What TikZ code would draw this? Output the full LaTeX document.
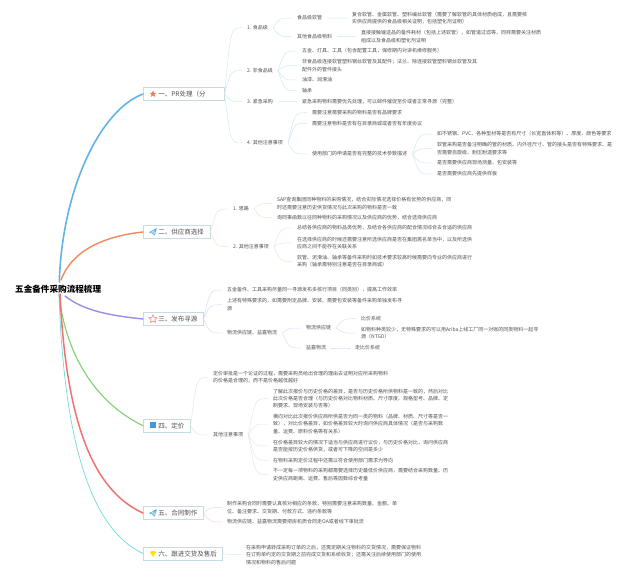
\documentclass[tikz,border=0pt]{standalone}
\usepackage{fontspec}
\setmainfont{Noto Sans CJK SC}
\usetikzlibrary{calc,shapes.geometric}
\definecolor{txt}{HTML}{505050}
\definecolor{bxline}{HTML}{C6DCE0}
\definecolor{cblue}{HTML}{62B4E2}
\definecolor{corange}{HTML}{F08A5D}
\definecolor{cpurple}{HTML}{9C8CE8}
\definecolor{cgreen}{HTML}{80CF72}
\definecolor{cred}{HTML}{F07272}
\definecolor{ccyan}{HTML}{6FDCD6}
\definecolor{lblue}{HTML}{CFEAF0}
\definecolor{lorange}{HTML}{FAE0D4}
\definecolor{lpurple}{HTML}{E0DBF7}
\definecolor{lgreen}{HTML}{E2EBE0}
\definecolor{lred}{HTML}{FAD6D6}
\definecolor{lcyan}{HTML}{CDF0F0}
\definecolor{iconblue}{HTML}{4CA8DC}
\tikzset{
  tx/.style={font=\fontsize{5}{7.4}\selectfont,text=txt,inner sep=0pt,align=left,anchor=west},
  bx/.style={draw=bxline,line width=0.6pt,fill=white,font=\fontsize{6.5}{8}\selectfont,text=txt,
    inner xsep=0pt,inner ysep=0pt,minimum height=13pt,align=left,anchor=west},
  lk/.style={line width=0.5pt},
  mainline/.style={line cap=round}
}
\newcommand{\lnk}[3]{%
  \path ([xshift=5pt]#1.east) coordinate (P) ([xshift=-5pt]#2.west) coordinate (Q);
  \draw[lk,#3] (P) .. controls ($(P |- Q)!.35!(Q)$) .. (Q);}
\newcommand{\lnkb}[3]{%
  \path (#1.east) coordinate (P) ([xshift=-5pt]#2.west) coordinate (Q);
  \draw[lk,#3] (P) .. controls ($(P |- Q)!.35!(Q)$) .. (Q);}
\newcommand{\planeicon}[2]{%
  \begin{scope}[shift={(#1,#2)}]
    \draw[iconblue,line width=0.5pt,fill=iconblue!25,line join=round]
      (3.5,-3.5) -- (-3.5,0.3) -- (-0.5,1.3) -- cycle
      (3.5,-3.5) -- (1.5,3.2) -- (-0.5,1.3);
  \end{scope}}
\begin{document}
\begin{tikzpicture}[x=1pt,y=-1pt]
\useasboundingbox (0,0) rectangle (640,576);
\fill[white] (0,0) rectangle (640,576);

% root branches
\coordinate (h1) at (59.3,282);
\coordinate (h2) at (61,280);
\coordinate (h3) at (65,296);
\coordinate (h4) at (59,294);
\coordinate (h5) at (60,294);
\coordinate (h6) at (59,294);

% section boxes
\node[bx,minimum width=81pt,text width=81pt] (s1) at (143,94) {\hspace*{15pt}一、PR处理（分};
\node[bx,minimum width=67pt,text width=67pt] (s2) at (143,232) {\hspace*{15pt}二、供应商选择};
\node[bx,minimum width=60pt,text width=60pt] (s3) at (143,319) {\hspace*{15pt}三、发布寻源};
\node[bx,minimum width=47pt,text width=47pt] (s4) at (143,425.7) {\hspace*{15pt}四、定价};
\node[bx,minimum width=60pt,text width=60pt] (s5) at (143,513) {\hspace*{15pt}五、合同制作};
\node[bx,minimum width=79pt,text width=79pt] (s6) at (143,553.5) {\hspace*{15pt}六、跟进交货及售后};

\draw[mainline,ccyan,line width=0.7pt] (h6) .. controls (64,445) and (92,530) .. (s6.west);
\draw[mainline,cgreen,line width=1.1pt] (h4) .. controls (66,360) and (100,405) .. (s4.west);
\draw[mainline,cred,line width=1.5pt] (h5) .. controls (66,420) and (92,490) .. (s5.west);
\draw[mainline,cpurple,line width=1.4pt] (h3) .. controls (85,312) and (115,316) .. (s3.west);
\draw[mainline,corange,line width=1.4pt] (h2) .. controls (72,250) and (105,236) .. (s2.west);
\draw[mainline,cblue,line width=1.6pt] (h1) .. controls (62,190) and (100,110) .. (s1.west);

% root
\node[inner sep=0pt,anchor=west,font=\fontsize{8.6}{10}\selectfont\bfseries,text=black] (root) at (15,288.7) {五金备件采购流程梳理};

% icons
\node[star,star points=5,star point ratio=2.4,fill=corange!90!red,inner sep=0pt,minimum size=7.5pt] (i1) at (153,94) {};
\planeicon{153}{232}
\node[star,star points=5,star point ratio=2.2,draw=cred,line width=0.5pt,fill=white,inner sep=0pt,minimum size=8.5pt] (i3) at (153,319) {};
\fill[iconblue!90!blue] (149.7,422) rectangle (156,428.2);
\planeicon{153}{513}
\fill[yellow!85!orange] (149.8,552.2) -- (151.5,551) -- (154.5,551) -- (156.2,552.2) -- (153,556.8) -- cycle;

% section 1
\node[tx] (a1) at (247,27.7) {1. 食品级};
\node[tx] (a11) at (297,18) {食品级软管};
\node[tx] (a12) at (297,36.7) {其他食品级物料};
\node[tx] (a111) at (352,18.2) {复合软管、金属软管、塑料编丝软管（需要了解软管的具体材质组成，且需要核\\实供应商提供的食品级相关证明，包括塑化剂证明）};
\node[tx] (a121) at (361,36.4) {直接接触输送品的备件耗材（包括上述软管），如管道过滤等，同样需要关注材质\\组成以及食品级和塑化剂证明};
\node[tx] (a2) at (247,70.7) {2. 非食品级};
\node[tx] (a21) at (302,51) {五金、灯具、工具（包含配置工具，保修期内对讲机维修服务）};
\node[tx] (a22) at (302,65.5) {非食品级连接软管塑料钢丝软管及其配件；法兰、除连接软管塑料钢丝软管及其\\配件外的管件接头};
\node[tx] (a23) at (302,80) {油漆、润滑油};
\node[tx] (a24) at (302,90.7) {轴承};
\node[tx] (a3) at (247,101.7) {3. 紧急采购};
\node[tx] (a31) at (302,101.7) {紧急采购物料需要优先处理，可以邮件催促至价或者正常寻源（完整）};
\node[tx] (a4) at (247,143) {4. 其他注意事项};
\node[tx] (a41) at (312,112.7) {需要注意需要采购的物料是否有品牌要求};
\node[tx] (a42) at (312,123.3) {需要注意物料是否有在目录商城或者否有年度协议};
\node[tx] (a43) at (312,154) {使用部门的申请是否有完整的技术参数描述};
\node[tx] (a431) at (437,134) {如不锈钢、PVC、各种型材等是否有尺寸（长宽直体积等）、厚度、颜色等要求};
\node[tx] (a432) at (437,148.7) {软管采购是否备注明确的管的材质、内外径尺寸、管的接头是否有特殊要求、是\\否需要自旋级、耐压耐温要求等};
\node[tx] (a433) at (437,163) {是否需要供应商现场测量、包安装等};
\node[tx] (a434) at (437,174) {是否需要供应商先提供样板};

\lnkb{s1}{a1}{lblue} \lnkb{s1}{a2}{lblue} \lnkb{s1}{a3}{lblue} \lnkb{s1}{a4}{lblue}
\lnk{a1}{a11}{lblue} \lnk{a1}{a12}{lblue} \lnk{a11}{a111}{lblue} \lnk{a12}{a121}{lblue}
\lnk{a2}{a21}{lblue} \lnk{a2}{a22}{lblue} \lnk{a2}{a23}{lblue} \lnk{a2}{a24}{lblue}
\lnk{a3}{a31}{lblue}
\lnk{a4}{a41}{lblue} \lnk{a4}{a42}{lblue} \lnk{a4}{a43}{lblue}
\lnk{a43}{a431}{lblue} \lnk{a43}{a432}{lblue} \lnk{a43}{a433}{lblue} \lnk{a43}{a434}{lblue}

% section 2
\node[tx] (b1) at (233,209) {1. 思路};
\node[tx] (b2) at (233,246.7) {2. 其他注意事项};
\node[tx] (b11) at (277,203.4) {SAP查询集团同种物料的采购情况，结合实际情况选择价格有优势的供应商，同\\时还需要注意历史供货情况与此次采购的物料是否一致};
\node[tx] (b12) at (277,217.7) {询同事函数以往同种物料的采购情况以及供应商的优势，结合选择供应商};
\node[tx] (b21) at (297,228) {总结各供应商的物料品类优势，及结合各供应商的配合情况综合去合适的供应商};
\node[tx] (b22) at (297,242.9) {在选择供应商的时候还需要注意所选供应商是否在集团黑名单当中，以及所选供\\应商之间不能存在关联关系};
\node[tx] (b23) at (297,261.4) {软管、泥滑油、轴承等备件采购时如技术要求较高时候需要向专业的供应商进行\\采购（轴承需特别注意是否在目录商城）};
\lnkb{s2}{b1}{lorange} \lnkb{s2}{b2}{lorange}
\lnk{b1}{b11}{lorange} \lnk{b1}{b12}{lorange}
\lnk{b2}{b21}{lorange} \lnk{b2}{b22}{lorange} \lnk{b2}{b23}{lorange}

% section 3
\node[tx] (c1) at (227,290) {五金备件、工具采购尽量同一寻源发布多核行项目（同类别），提高工作效率};
\node[tx] (c2) at (227,304.7) {上述有特殊要求的，如需要附定品牌、安装、需要包安装等备件采购单独发布寻\\源};
\node[tx] (c3) at (227,333) {物流供应链、益嘉物流};
\node[tx] (c31) at (306,328) {物流供应链};
\node[tx] (c32) at (306,348) {益嘉物流};
\node[tx] (c311) at (361,318.7) {比价系统};
\node[tx] (c312) at (361,333.2) {如物料种类较少，无特殊要求的可以用Ariba上线工厂同一对账的同类物料一起寻\\源（NTGD）};
\node[tx] (c321) at (355,348) {走比价系统};
\lnkb{s3}{c1}{lpurple} \lnkb{s3}{c2}{lpurple} \lnkb{s3}{c3}{lpurple}
\lnk{c3}{c31}{lpurple} \lnk{c3}{c32}{lpurple}
\lnk{c31}{c311}{lpurple} \lnk{c31}{c312}{lpurple} \lnk{c32}{c321}{lpurple}

% section 4
\node[tx] (d1) at (213,377.4) {定价审批是一个论证的过程，需要采购员给出合理的理由去证明对应所采购物料\\的价格是合理的，而不是价格越低越好};
\node[tx] (d2) at (213,435) {其他注意事项};
\node[tx] (d21) at (273,398.6) {了解此次报价与历史价格的差异，是否与历史价格所供物料是一致的，然后对比\\此次价格是否合理（与历史价格对比物料材质、尺寸厚度、规格型号、品牌、定\\制要求、现场安装与否等）};
\node[tx] (d22) at (273,424) {横向对比此次报价供应商所供是否为同一类的物料（品牌、材质、尺寸等是否一\\致），对比价格差异，如价格差异较大时询问供应商具体情况（是否与采购数\\量、运费、原料价格等有关系）};
\node[tx] (d23) at (273,445.9) {在价格差异较大的情况下适当与供应商进行议价，与历史价格对比，询问供应商\\是否能按历史价格供货，或者可下降的空间是多少};
\node[tx] (d24) at (273,460.3) {在物料采购定价过程中还需以符合使用部门需求为导向};
\node[tx] (d25) at (273,474.7) {不一定每一项物料的采购都需要选择历史最低价供应商，需要结合采购数量、历\\史供应商距离、运费、售后等因数综合考量};
\lnkb{s4}{d1}{lgreen} \lnkb{s4}{d2}{lgreen}
\lnk{d2}{d21}{lgreen} \lnk{d2}{d22}{lgreen} \lnk{d2}{d23}{lgreen} \lnk{d2}{d24}{lgreen} \lnk{d2}{d25}{lgreen}

% section 5
\node[tx] (e1) at (227,507.4) {制作采购合同时需要认真核对相应的条款，特别需要注意采购数量、金额、单\\位、备注要求、交货期、付款方式、违约条款等};
\node[tx] (e2) at (227,522) {物流供应链、益嘉物流需要把房机质合同走OA或者线下审批流};
\lnkb{s5}{e1}{lred} \lnkb{s5}{e2}{lred}

% section 6
\node[tx] (f1) at (246,554.7) {在采购申请转成采购订单的之后，还需定期关注物料的交货情况，需要保证物料\\在订购单约定的交货期之前完成交货和系统收货；还需关注后续使用部门的使用\\情况和物料的售后问题};
\lnkb{s6}{f1}{lcyan}
\end{tikzpicture}
\end{document}
